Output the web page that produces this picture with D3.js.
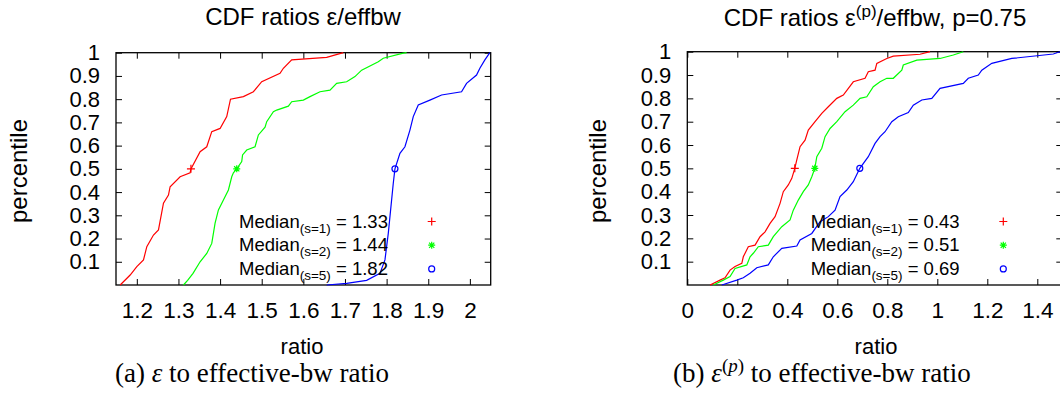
<!DOCTYPE html>
<html>
<head>
<meta charset="utf-8">
<script src="https://cdn.jsdelivr.net/npm/d3@7"></script>
<style>
body { margin: 0; background: #fff; }
text { font-family: "Liberation Sans", Arial, sans-serif; fill: #000; }
.cap { font-family: "Liberation Serif", "Times New Roman", serif; }
</style>
</head>
<body>
<svg id="chart" width="1060" height="402"></svg>
<script>
// CDF points [ratio, percentile]
var leftS1 = [[1.16,0],[1.184,0.043],[1.2,0.079],[1.216,0.108],[1.224,0.165],[1.24,0.215],[1.252,0.237],[1.264,0.352],[1.276,0.387],[1.28,0.423],[1.304,0.466],[1.328,0.483],[1.33,0.5],[1.352,0.574],[1.368,0.595],[1.38,0.66],[1.4,0.674],[1.416,0.725],[1.425,0.8],[1.456,0.811],[1.48,0.832],[1.5,0.875],[1.544,0.911],[1.552,0.933],[1.572,0.969],[1.656,0.98],[1.696,1]];
var leftS2 = [[1.312,0],[1.322,0.02],[1.335,0.05],[1.352,0.1],[1.368,0.136],[1.38,0.179],[1.388,0.266],[1.396,0.323],[1.408,0.366],[1.42,0.409],[1.428,0.466],[1.432,0.483],[1.44,0.5],[1.452,0.531],[1.454,0.56],[1.464,0.581],[1.484,0.595],[1.492,0.646],[1.508,0.679],[1.512,0.703],[1.528,0.746],[1.536,0.753],[1.564,0.77],[1.572,0.789],[1.6,0.796],[1.616,0.811],[1.64,0.832],[1.664,0.839],[1.68,0.868],[1.704,0.875],[1.724,0.897],[1.74,0.925],[1.78,0.961],[1.792,0.976],[1.84,0.998],[1.848,1]];
var leftS5 = [[1.656,0],[1.704,0.007],[1.752,0.02],[1.784,0.05],[1.796,0.108],[1.804,0.222],[1.816,0.438],[1.82,0.5],[1.832,0.567],[1.844,0.595],[1.856,0.667],[1.864,0.725],[1.876,0.775],[1.904,0.796],[1.932,0.818],[1.98,0.832],[1.992,0.868],[2.016,0.904],[2.024,0.933],[2.036,0.969],[2.048,1]];

var rightS1 = [[0.091,0],[0.131,0.021],[0.151,0.031],[0.171,0.064],[0.191,0.079],[0.218,0.093],[0.224,0.121],[0.244,0.164],[0.271,0.171],[0.291,0.207],[0.311,0.228],[0.331,0.264],[0.351,0.293],[0.371,0.35],[0.384,0.4],[0.404,0.429],[0.418,0.457],[0.43,0.5],[0.438,0.536],[0.451,0.593],[0.471,0.621],[0.484,0.664],[0.511,0.7],[0.538,0.736],[0.564,0.764],[0.598,0.8],[0.624,0.814],[0.664,0.871],[0.711,0.886],[0.724,0.914],[0.751,0.921],[0.758,0.95],[0.798,0.971],[0.824,0.981],[0.931,0.989],[0.971,1]];
var rightS2 = [[0.104,0],[0.144,0.021],[0.171,0.036],[0.191,0.071],[0.238,0.086],[0.251,0.121],[0.264,0.136],[0.284,0.164],[0.324,0.171],[0.344,0.207],[0.378,0.25],[0.411,0.279],[0.424,0.321],[0.444,0.364],[0.464,0.4],[0.484,0.429],[0.498,0.464],[0.51,0.5],[0.518,0.55],[0.538,0.586],[0.551,0.636],[0.571,0.671],[0.598,0.7],[0.631,0.743],[0.664,0.771],[0.691,0.8],[0.718,0.807],[0.744,0.85],[0.771,0.871],[0.798,0.886],[0.824,0.886],[0.858,0.921],[0.864,0.943],[0.918,0.964],[1.011,0.971],[1.064,0.986],[1.104,1]];
var rightS5 = [[0.138,0],[0.198,0.021],[0.224,0.031],[0.251,0.05],[0.278,0.074],[0.324,0.086],[0.344,0.121],[0.378,0.157],[0.438,0.167],[0.451,0.193],[0.498,0.221],[0.531,0.271],[0.564,0.293],[0.591,0.321],[0.611,0.379],[0.638,0.407],[0.664,0.443],[0.69,0.5],[0.724,0.55],[0.751,0.607],[0.771,0.636],[0.791,0.657],[0.818,0.7],[0.844,0.721],[0.884,0.739],[0.904,0.771],[0.938,0.793],[0.978,0.8],[1.011,0.843],[1.104,0.864],[1.124,0.886],[1.164,0.9],[1.178,0.921],[1.218,0.95],[1.298,0.971],[1.464,0.99],[1.491,1]];

var seriesNames = ["s=1", "s=2", "s=5"];
var seriesColors = ["#ff0000", "#00ff00", "#0000ff"];
var leftMedians = [1.33, 1.44, 1.82];
var rightMedians = [0.43, 0.51, 0.69];

var leftXTicks = [1.2, 1.3, 1.4, 1.5, 1.6, 1.7, 1.8, 1.9, 2];
var rightXTicks = [0, 0.2, 0.4, 0.6, 0.8, 1, 1.2, 1.4];
var yTicks = [0.1, 0.2, 0.3, 0.4, 0.5, 0.6, 0.7, 0.8, 0.9, 1];

var svg = d3.select("#chart");
svg.append("rect").attr("width", 1060).attr("height", 402).attr("fill", "#fff");

// marker shapes (gnuplot point types 1, 3, 6)
var markers = [
  "M-4,0H4M0,-4V4",
  "M-3.5,0H3.5M0,-3.5V3.5M-2.6,-2.6L2.6,2.6M-2.6,2.6L2.6,-2.6",
  null
];

function drawMarker(g, i, cx, cy) {
  if (markers[i]) {
    g.append("path").attr("d", markers[i])
      .attr("transform", "translate(" + cx + "," + cy + ")")
      .attr("stroke", seriesColors[i]).attr("stroke-width", 1.2).attr("fill", "none");
  } else {
    g.append("circle").attr("cx", cx).attr("cy", cy).attr("r", 3)
      .attr("stroke", seriesColors[i]).attr("stroke-width", 1.2).attr("fill", "none");
  }
}

function drawPanel(p) {
  var x = d3.scaleLinear().domain(p.xDomain).range([p.left, p.right]);
  var y = d3.scaleLinear().domain([0, 1]).range([p.bottom, p.top]);
  var g = svg.append("g");

  // ticks point inwards on all four sides
  g.append("g").attr("class", "xax").attr("transform", "translate(0," + p.bottom + ")")
    .call(d3.axisBottom(x).tickValues(p.xTicks).tickSize(-6).tickPadding(17).tickFormat(d3.format("~g")));
  g.append("g").attr("class", "yax").attr("transform", "translate(" + p.left + ",0)")
    .call(d3.axisLeft(y).tickValues(yTicks).tickSize(-6).tickPadding(16).tickFormat(d3.format("~g")));
  g.append("g").attr("transform", "translate(0," + p.top + ")")
    .call(d3.axisTop(x).tickValues(p.xTicks).tickSize(-6).tickFormat(""));
  g.append("g").attr("transform", "translate(" + p.right + ",0)")
    .call(d3.axisRight(y).tickValues(yTicks).tickSize(-6).tickFormat(""));
  g.selectAll(".domain").remove();
  g.selectAll(".tick line").attr("stroke", "#000").attr("stroke-width", 1);
  g.selectAll(".tick text").attr("font-family", "Liberation Sans, Arial, sans-serif").attr("fill", "#000");
  g.selectAll(".xax .tick text").attr("font-size", 22.5);
  g.selectAll(".yax .tick text").attr("font-size", 22);

  g.append("rect")
    .attr("x", p.left).attr("y", p.top)
    .attr("width", p.right - p.left).attr("height", p.bottom - p.top)
    .attr("fill", "none").attr("stroke", "#000").attr("stroke-width", 1.3);

  var line = d3.line().x(function(d) { return x(d[0]); }).y(function(d) { return y(d[1]); });
  p.series.forEach(function(s, i) {
    g.append("path").datum(s).attr("d", line)
      .attr("fill", "none").attr("stroke", seriesColors[i]).attr("stroke-width", 1.2);
    drawMarker(g, i, x(p.medians[i]), y(0.5));
  });

  // legend
  p.medians.forEach(function(m, i) {
    var base = 227.5 + i * 23.7;
    var t = g.append("text").attr("x", p.legendX).attr("y", base).attr("font-size", 18.5);
    t.append("tspan").text("Median");
    t.append("tspan").attr("dy", 5).attr("font-size", 13.5).text("(" + seriesNames[i] + ")");
    t.append("tspan").attr("dy", -5).text(" = " + d3.format(".2f")(m));
    drawMarker(g, i, p.markX, base - 6);
  });

  // axis labels
  g.append("text").attr("x", p.xLabelX).attr("y", 354)
    .attr("text-anchor", "middle").attr("font-size", 22).text("ratio");
  g.append("text").attr("transform", "translate(" + p.yLabelX + ",171) rotate(-90)")
    .attr("text-anchor", "middle").attr("font-size", 24).text("percentile");
}

drawPanel({
  xDomain: [1.15, 2.05], left: 116, right: 490.7, top: 52.7, bottom: 285,
  xTicks: leftXTicks, series: [leftS1, leftS2, leftS5], medians: leftMedians,
  legendX: 239, markX: 431.7, yLabelX: 27, xLabelX: 302
});
drawPanel({
  xDomain: [0, 1.5], left: 687.3, right: 1062.3, top: 51.7, bottom: 285,
  xTicks: rightXTicks, series: [rightS1, rightS2, rightS5], medians: rightMedians,
  legendX: 810.7, markX: 1003.3, yLabelX: 606, xLabelX: 876
});

// titles
svg.append("text").attr("x", 303).attr("y", 25).attr("text-anchor", "middle")
  .attr("font-size", 24).text("CDF ratios ε/effbw");
var t2 = svg.append("text").attr("x", 875).attr("y", 26).attr("text-anchor", "middle").attr("font-size", 24);
t2.append("tspan").text("CDF ratios ε");
t2.append("tspan").attr("dy", -9).attr("font-size", 17).text("(p)");
t2.append("tspan").attr("dy", 9).text("/effbw, p=0.75");

// sub-figure captions
var c1 = svg.append("text").attr("class", "cap").attr("x", 115).attr("y", 382).attr("font-size", 27);
c1.append("tspan").text("(a) ");
c1.append("tspan").attr("font-style", "italic").text("ε");
c1.append("tspan").text(" to effective-bw ratio");
var c2 = svg.append("text").attr("class", "cap").attr("x", 673).attr("y", 382).attr("font-size", 27);
c2.append("tspan").text("(b) ");
c2.append("tspan").attr("font-style", "italic").text("ε");
c2.append("tspan").attr("dy", -10).attr("font-size", 19).text("(");
c2.append("tspan").attr("font-size", 19).attr("font-style", "italic").text("p");
c2.append("tspan").attr("font-size", 19).text(")");
c2.append("tspan").attr("dy", 10).text(" to effective-bw ratio");
</script>
</body>
</html>
